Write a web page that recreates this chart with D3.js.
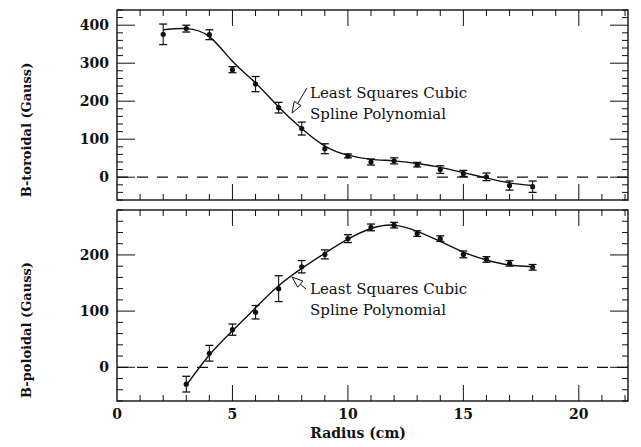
<!DOCTYPE html>
<html>
<head>
<meta charset="utf-8">
<script src="https://cdn.jsdelivr.net/npm/d3@7"></script>
<style>
  body { margin: 0; background: #fff; }
  svg text { font-family: "DejaVu Serif", serif; fill: #111; }
</style>
</head>
<body>
<div id="chart"></div>
<script>
var torRadius = [2, 3, 4, 5, 6, 7, 8, 9, 10, 11, 12, 13, 14, 15, 16, 17, 18];
var torValue = [376, 391, 375, 283, 245, 183, 128, 75, 56, 40, 43, 33, 20, 10, 1, -22, -25];
var torError = [27, 9, 13, 8, 20, 14, 17, 13, 5, 8, 8, 6, 10, 8, 10, 12, 15];
var torFit = [388, 391, 370, 305, 248, 185, 128, 82, 58, 47, 43, 36, 26, 12, -2, -15, -22];

var polRadius = [3, 4, 5, 6, 7, 8, 9, 10, 11, 12, 13, 14, 15, 16, 17, 18];
var polValue = [-30, 25, 67, 98, 140, 179, 201, 229, 249, 253, 238, 229, 201, 192, 185, 178];
var polError = [14, 14, 10, 12, 23, 11, 8, 7, 6, 5, 5, 5, 6, 5, 5, 5];
var polFit = [-32, 22, 65, 106, 145, 176, 203, 228, 247, 253, 242, 224, 205, 191, 182, 179];

var xTicks = [0, 5, 10, 15, 20];
var torTicks = [0, 100, 200, 300, 400];
var polTicks = [0, 100, 200];

var width = 641, height = 447;
var margin = { left: 117, right: 628 };

var svg = d3.select("#chart").append("svg")
    .attr("width", width)
    .attr("height", height);

var x = d3.scaleLinear().domain([0, 22]).range([margin.left, 625]);

function panel(opts) {
    var y = d3.scaleLinear().domain(opts.domain).range([opts.bottom, opts.top]);
    var g = svg.append("g");
    var x0 = x(0), x1 = margin.right;

    // frame
    g.append("rect")
        .attr("x", x0).attr("y", opts.top)
        .attr("width", x1 - x0).attr("height", opts.bottom - opts.top)
        .attr("fill", "none").attr("stroke", "#111").attr("stroke-width", 1.4);

    // x ticks, inward on top and bottom
    var xt = d3.range(1, 23, 1);
    xt.forEach(function (v) {
        var len = v % 5 === 0 ? 16 : 6;
        g.append("line").attr("x1", x(v)).attr("x2", x(v))
            .attr("y1", opts.bottom).attr("y2", opts.bottom - len)
            .attr("stroke", "#111").attr("stroke-width", 1);
        g.append("line").attr("x1", x(v)).attr("x2", x(v))
            .attr("y1", opts.top).attr("y2", opts.top + len)
            .attr("stroke", "#111").attr("stroke-width", 1);
    });

    // y ticks, inward on left and right
    var yt = d3.range(opts.domain[0], opts.domain[1] + 1, 20);
    yt.forEach(function (v) {
        var len = v % 100 === 0 ? 18 : 6;
        g.append("line").attr("x1", x0).attr("x2", x0 + len)
            .attr("y1", y(v)).attr("y2", y(v))
            .attr("stroke", "#111").attr("stroke-width", 1);
        g.append("line").attr("x1", x1).attr("x2", x1 - len)
            .attr("y1", y(v)).attr("y2", y(v))
            .attr("stroke", "#111").attr("stroke-width", 1);
    });

    g.selectAll(".ylab")
        .data(opts.ticks)
        .enter().append("text")
        .attr("x", x0 - 8)
        .attr("y", d => y(d))
        .attr("dy", "0.36em")
        .attr("text-anchor", "end")
        .style("font-size", "14px")
        .style("font-weight", "bold")
        .text(d => d);

    // zero line
    g.append("line")
        .attr("x1", x0).attr("x2", x1)
        .attr("y1", y(0)).attr("y2", y(0))
        .attr("stroke", "#111").attr("stroke-width", 1.2)
        .attr("stroke-dasharray", "11,9");

    // fitted spline
    var line = d3.line()
        .x((d, i) => x(opts.radius[i]))
        .y(d => y(d))
        .curve(d3.curveNatural);
    g.append("path")
        .attr("d", line(opts.fit))
        .attr("fill", "none").attr("stroke", "#111").attr("stroke-width", 1.4);

    // error bars
    var pts = g.selectAll(".pt")
        .data(opts.value)
        .enter().append("g");
    pts.append("line")
        .attr("x1", (d, i) => x(opts.radius[i])).attr("x2", (d, i) => x(opts.radius[i]))
        .attr("y1", (d, i) => y(d - opts.error[i])).attr("y2", (d, i) => y(d + opts.error[i]))
        .attr("stroke", "#111").attr("stroke-width", 1.1);
    [-1, 1].forEach(function (s) {
        pts.append("line")
            .attr("x1", (d, i) => x(opts.radius[i]) - 4).attr("x2", (d, i) => x(opts.radius[i]) + 4)
            .attr("y1", (d, i) => y(d + s * opts.error[i])).attr("y2", (d, i) => y(d + s * opts.error[i]))
            .attr("stroke", "#111").attr("stroke-width", 1.3);
    });
    pts.append("circle")
        .attr("cx", (d, i) => x(opts.radius[i]))
        .attr("cy", d => y(d))
        .attr("r", 2.6)
        .attr("fill", "#111");

    // y axis title
    svg.append("text")
        .attr("transform", `translate(${opts.titleX},${opts.titleY}) rotate(-90)`)
        .attr("text-anchor", "middle")
        .style("font-size", "13px")
        .style("font-weight", "bold")
        .text(opts.title);

    // annotation
    var ann = g.append("g");
    ann.append("text").attr("x", 310).attr("y", opts.annY)
        .style("font-size", "15px").text("Least Squares Cubic");
    ann.append("text").attr("x", 310).attr("y", opts.annY + 21)
        .style("font-size", "15px").text("Spline Polynomial");

    // open arrowhead pointing to the curve
    var a = opts.arrow;
    var ang = Math.atan2(a[3] - a[1], a[2] - a[0]);
    var hl = 11, hw = 4;
    var bx = a[2] - hl * Math.cos(ang), by = a[3] - hl * Math.sin(ang);
    var px = -Math.sin(ang) * hw, py = Math.cos(ang) * hw;
    ann.append("line")
        .attr("x1", a[0]).attr("y1", a[1]).attr("x2", bx).attr("y2", by)
        .attr("stroke", "#111").attr("stroke-width", 1);
    ann.append("path")
        .attr("d", `M${a[2]},${a[3]}L${bx + px},${by + py}L${bx - px},${by - py}Z`)
        .attr("fill", "#fff").attr("stroke", "#111").attr("stroke-width", 1);

    return y;
}

panel({
    domain: [-60, 440], top: 10, bottom: 200,
    radius: torRadius, value: torValue, error: torError, fit: torFit,
    ticks: torTicks, title: "B-toroidal (Gauss)", titleX: 31, titleY: 130,
    annY: 98, arrow: [307, 88, 292, 113]
});

panel({
    domain: [-60, 280], top: 210, bottom: 401,
    radius: polRadius, value: polValue, error: polError, fit: polFit,
    ticks: polTicks, title: "B-poloidal (Gauss)", titleX: 31, titleY: 330,
    annY: 294, arrow: [306, 289, 292, 277]
});

// x axis labels
svg.selectAll(".xlab")
    .data(xTicks)
    .enter().append("text")
    .attr("x", d => x(d))
    .attr("y", 419)
    .attr("text-anchor", "middle")
    .style("font-size", "14px")
    .style("font-weight", "bold")
    .text(d => d);

svg.append("text")
    .attr("x", 358).attr("y", 438)
    .attr("text-anchor", "middle")
    .style("font-size", "14px")
    .style("font-weight", "bold")
    .text("Radius (cm)");
</script>
</body>
</html>
